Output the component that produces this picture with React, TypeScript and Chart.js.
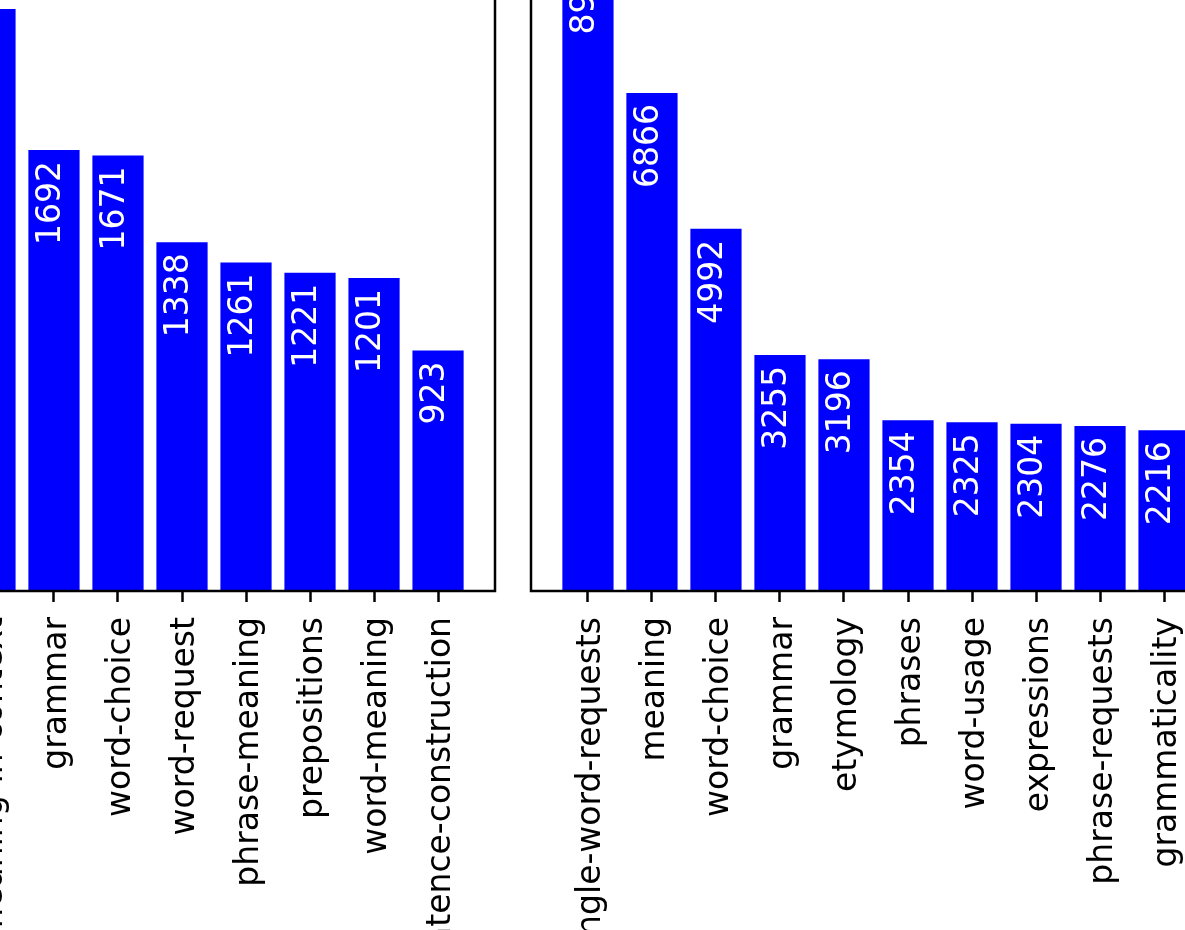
import React, { useEffect, useRef } from "react";
import { Chart, registerables } from "chart.js";

Chart.register(...registerables);

// ---- data ----
const leftLabels = [
  "meaning",
  "single-word-requests",
  "meaning-in-context",
  "grammar",
  "word-choice",
  "word-request",
  "phrase-meaning",
  "prepositions",
  "word-meaning",
  "sentence-construction",
];
const leftValues = [2500, 2400, 2234, 1692, 1671, 1338, 1261, 1221, 1201, 923];

const rightLabels = [
  "single-word-requests",
  "meaning",
  "word-choice",
  "grammar",
  "etymology",
  "phrases",
  "word-usage",
  "expressions",
  "phrase-requests",
  "grammaticality",
];
const rightValues = [8980, 6866, 4992, 3255, 3196, 2354, 2325, 2304, 2276, 2216];

const FONT = "'DejaVu Sans', 'Liberation Sans', sans-serif";
const BLUE = "#0000ff";
const PAD = 10;

const spinePlugin = {
  id: "spines",
  afterDatasetsDraw(chart: any) {
    const { ctx, chartArea } = chart;
    ctx.save();
    ctx.strokeStyle = "#000";
    ctx.lineWidth = 2.5;
    ctx.strokeRect(
      chartArea.left,
      chartArea.top,
      chartArea.right - chartArea.left,
      chartArea.bottom - chartArea.top
    );
    ctx.restore();
  },
};

const valueLabelPlugin = {
  id: "valueLabels",
  afterDatasetsDraw(chart: any) {
    const { ctx } = chart;
    const meta = chart.getDatasetMeta(0);
    const vals = chart.data.datasets[0].data;
    ctx.save();
    ctx.fillStyle = "#ffffff";
    ctx.font = `33px ${FONT}`;
    ctx.textAlign = "right";
    ctx.textBaseline = "middle";
    meta.data.forEach((bar: any, i: number) => {
      ctx.save();
      ctx.translate(bar.x - 3, bar.y + 11);
      ctx.rotate(-Math.PI / 2);
      ctx.fillText(String(vals[i].y), 0, 0);
      ctx.restore();
    });
    ctx.restore();
  },
};

type PanelProps = {
  labels: string[];
  values: number[];
  left: number;
  top: number;
  width: number;
  plotHeight: number;
  xAxisHeight: number;
};

function BarPanel({ labels, values, left, top, width, plotHeight, xAxisHeight }: PanelProps) {
  const ref = useRef<HTMLCanvasElement>(null);
  useEffect(() => {
    const n = labels.length;
    const span = n - 1 + 0.8;
    const margin = 0.05 * span;
    const yMax = Math.max(...values) * 1.05;
    const chart = new Chart(ref.current as HTMLCanvasElement, {
      type: "bar",
      data: {
        datasets: [
          {
            data: values.map((v, i) => ({ x: i, y: v })),
            backgroundColor: BLUE,
            borderWidth: 0,
            barPercentage: 0.8,
            categoryPercentage: 1,
          },
        ],
      },
      options: {
        animation: false,
        responsive: false,
        maintainAspectRatio: false,
        layout: { padding: { left: PAD, right: PAD, top: PAD, bottom: 0 } },
        plugins: {
          legend: { display: false },
          tooltip: { enabled: false },
        },
        scales: {
          x: {
            type: "linear",
            min: -0.4 - margin,
            max: n - 1 + 0.4 + margin,
            offset: false,
            afterBuildTicks: (s: any) => {
              s.ticks = labels.map((_, i) => ({ value: i }));
            },
            afterFit: (s: any) => {
              s.height = xAxisHeight;
            },
            ticks: {
              autoSkip: false,
              maxRotation: 90,
              minRotation: 90,
              padding: 15,
              labelOffset: 3,
              color: "#000",
              font: { family: FONT, size: 33 },
              callback: (v: any) => labels[Math.round(Number(v))] ?? "",
            },
            grid: {
              display: true,
              offset: false,
              drawOnChartArea: false,
              drawTicks: true,
              tickLength: 11,
              tickWidth: 2.5,
              tickColor: "#000",
              color: "#000",
            },
            border: { display: false },
          },
          y: {
            display: false,
            min: 0,
            max: yMax,
          },
        },
      } as any,
      plugins: [spinePlugin, valueLabelPlugin],
    });
    return () => chart.destroy();
  }, []);
  const height = PAD + plotHeight + xAxisHeight;
  const w = width + 2 * PAD;
  return (
    <canvas
      ref={ref}
      width={w}
      height={height}
      style={{
        position: "absolute",
        left: left - PAD,
        top: top - PAD,
        width: w,
        height,
        display: "block",
      }}
    />
  );
}

export default function App() {
  return (
    <div
      style={{
        position: "fixed",
        left: 0,
        top: 0,
        width: 1185,
        height: 930,
        overflow: "hidden",
        background: "#fff",
      }}
    >
      <BarPanel
        labels={leftLabels}
        values={leftValues}
        left={-195}
        top={-93}
        width={690}
        plotHeight={684}
        xAxisHeight={420}
      />
      <BarPanel
        labels={rightLabels}
        values={rightValues}
        left={531}
        top={-93}
        width={690}
        plotHeight={684}
        xAxisHeight={420}
      />
    </div>
  );
}
